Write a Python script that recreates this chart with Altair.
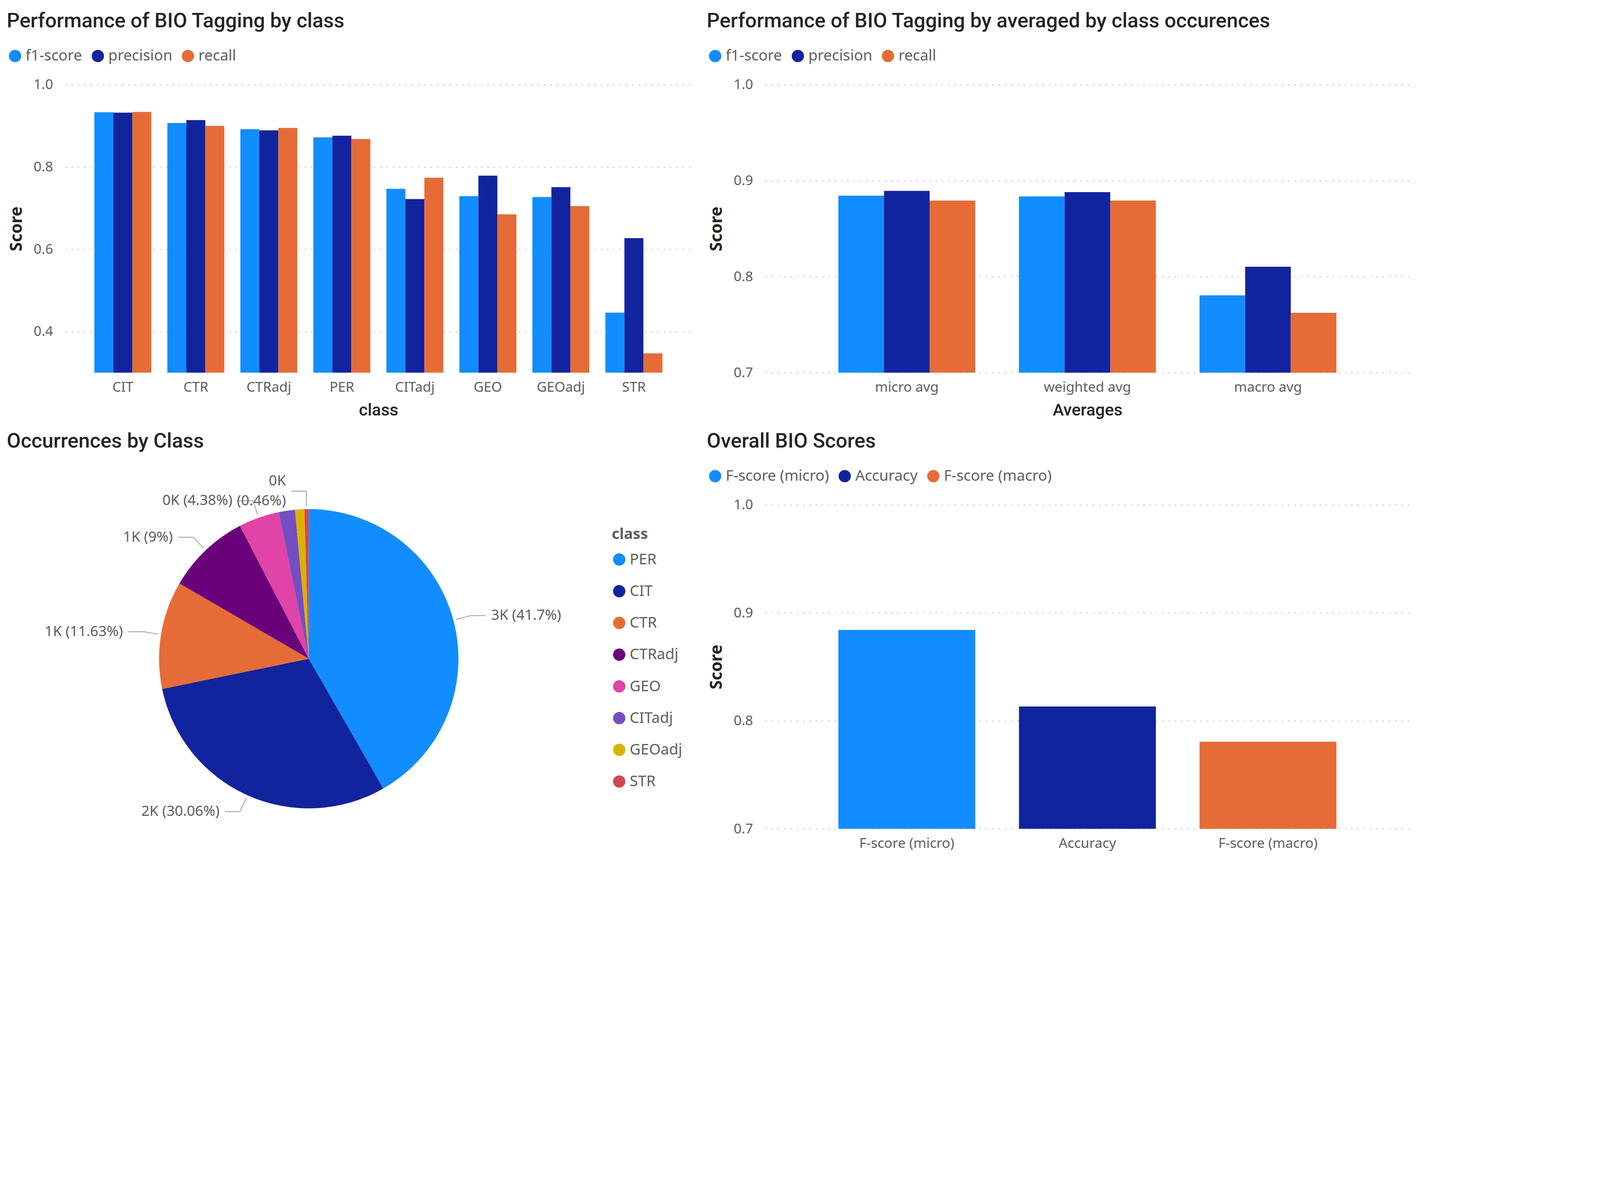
import json
import altair as alt
import pandas as pd

# ---------------- data ----------------
classes = ["CIT", "CTR", "CTRadj", "PER", "CITadj", "GEO", "GEOadj", "STR"]
metrics = ["f1-score", "precision", "recall"]
f1_by_class = [0.933, 0.907, 0.892, 0.872, 0.747, 0.729, 0.727, 0.446]
precision_by_class = [0.932, 0.914, 0.889, 0.876, 0.722, 0.779, 0.751, 0.627]
recall_by_class = [0.934, 0.900, 0.895, 0.868, 0.774, 0.685, 0.705, 0.347]

averages = ["micro avg", "weighted avg", "macro avg"]
f1_avg = [0.8844, 0.8836, 0.7805]
precision_avg = [0.8894, 0.8881, 0.8103]
recall_avg = [0.8793, 0.8793, 0.7623]

pie_classes = ["PER", "CIT", "CTR", "CTRadj", "GEO", "CITadj", "GEOadj", "STR"]
pie_counts = [2961, 2134, 826, 639, 311, 125, 71, 33]
hidden_pie_labels = ["CITadj", "GEOadj"]

overall_names = ["F-score (micro)", "Accuracy", "F-score (macro)"]
overall_values = [0.8842, 0.8133, 0.7806]

class_domain = [0.3, 1.0]
avg_domain = [0.7, 1.0]
class_ticks = [0.4, 0.6, 0.8, 1.0]
avg_ticks = [0.7, 0.8, 0.9, 1.0]

# ---------------- style ----------------
# sizes below are given in screenshot pixels; K converts them to CSS pixels
K = 4096 / 5334


def px(v):
    return v * K


metric_colors = ["#118DFF", "#12239E", "#E66C37"]
class_colors = ["#118DFF", "#12239E", "#E66C37", "#6B007B",
                "#E044A7", "#744EC2", "#D9B300", "#D64550"]
SEGOE = "Noto Sans"
DIN = "Roboto"
DARK = "#252423"
GRAY = "#605E5C"

BAR_W, BAR_H = px(2088), px(960)
AVG_W = px(2148)
OV_H = px(1080)
PIE_W, PIE_H, PIE_R = px(1624), px(1026), px(499)
CX, CY = PIE_W / 2, PIE_H / 2
LINE_H = px(67)
DOT = px(41) ** 2

# ---------------- frames ----------------
rows = []
for i, c in enumerate(classes):
    for m, vals in zip(metrics, [f1_by_class, precision_by_class, recall_by_class]):
        rows.append({"cls": c, "metric": m, "score": vals[i]})
df_class = pd.DataFrame(rows)

rows = []
for i, a in enumerate(averages):
    for m, vals in zip(metrics, [f1_avg, precision_avg, recall_avg]):
        rows.append({"avg": a, "metric": m, "score": vals[i]})
df_avg = pd.DataFrame(rows)

df_pie = pd.DataFrame({"cls": pie_classes, "count": pie_counts,
                       "idx": list(range(len(pie_classes)))})
df_over = pd.DataFrame({"name": overall_names, "score": overall_values})


def title(text, offset):
    return alt.TitleParams(text=text, anchor="start", frame="group", dx=px(-195),
                           offset=px(offset), baseline="alphabetic", font=DIN,
                           fontSize=px(68), fontWeight=500, color=DARK)


def top_legend():
    return alt.Legend(orient="none", legendX=px(-192), legendY=px(-121),
                      direction="horizontal", title=None, symbolType="circle",
                      symbolSize=DOT, symbolStrokeWidth=0, labelFont=SEGOE,
                      labelFontSize=px(50), labelColor=GRAY, labelOffset=px(10),
                      labelLimit=0, columnPadding=px(27), padding=0)


def y_axis(values):
    return alt.Axis(values=values, format=".1f", domain=False, ticks=False,
                    labelPadding=px(41), labelFont=SEGOE, labelFontSize=px(46),
                    labelColor=GRAY, grid=True, gridColor="#C8C6C4",
                    gridDash=[px(4), px(17)], gridWidth=px(4), title="Score",
                    titleFont=SEGOE, titleFontSize=px(55), titleFontWeight="bold",
                    titleColor=DARK, titleX=px(-162), titleBaseline="middle",
                    titleAngle=270)


def x_axis(t):
    kw = dict(domain=False, ticks=False, labelAngle=0, labelPadding=px(26),
              labelFont=SEGOE, labelFontSize=px(46), labelColor=GRAY, labelLimit=0,
              grid=False)
    if t:
        kw.update(title=t, titleFont=DIN, titleFontSize=px(56), titleFontWeight=500,
                  titleColor=DARK, titleY=px(125), titleBaseline="middle")
    else:
        kw.update(title=None)
    return alt.Axis(**kw)


metric_scale = alt.Scale(domain=metrics, range=metric_colors)

# ---- A: by class ----
chart_a = alt.Chart(df_class).mark_bar().encode(
    x=alt.X("cls:N", sort=classes,
            scale=alt.Scale(paddingInner=0.2194, paddingOuter=0.399),
            axis=x_axis("class")),
    xOffset=alt.XOffset("metric:N", sort=metrics,
                        scale=alt.Scale(paddingInner=0, paddingOuter=0)),
    y=alt.Y("score:Q", scale=alt.Scale(domain=class_domain, zero=False, nice=False),
            axis=y_axis(class_ticks)),
    y2=alt.Y2(datum=class_domain[0]),
    color=alt.Color("metric:N", scale=metric_scale, legend=top_legend()),
).properties(width=BAR_W, height=BAR_H,
             title=title("Performance of BIO Tagging by class", 2))

# ---- B: averages ----
chart_b = alt.Chart(df_avg).mark_bar().encode(
    x=alt.X("avg:N", sort=averages,
            scale=alt.Scale(paddingInner=0.242, paddingOuter=0.405),
            axis=x_axis("Averages")),
    xOffset=alt.XOffset("metric:N", sort=metrics,
                        scale=alt.Scale(paddingInner=0, paddingOuter=0)),
    y=alt.Y("score:Q", scale=alt.Scale(domain=avg_domain, zero=False, nice=False),
            axis=y_axis(avg_ticks)),
    y2=alt.Y2(datum=avg_domain[0]),
    color=alt.Color("metric:N", scale=metric_scale, legend=top_legend()),
).properties(width=AVG_W, height=BAR_H,
             title=title("Performance of BIO Tagging by averaged by class occurences", 2))

# ---- C: pie ----
pie_base = alt.Chart(df_pie)
arcs = pie_base.mark_arc(radius=PIE_R).encode(
    theta=alt.Theta("count:Q", stack=True),
    order=alt.Order("idx:Q"),
    color=alt.Color("cls:N", scale=alt.Scale(domain=pie_classes, range=class_colors),
                    legend=alt.Legend(orient="none", legendX=px(1822), legendY=px(74),
                                      direction="vertical", title="class",
                                      titleFont=SEGOE, titleFontSize=px(50),
                                      titleFontWeight="bold", titleColor=GRAY,
                                      titlePadding=px(33), symbolType="circle",
                                      symbolSize=DOT, symbolStrokeWidth=0,
                                      labelFont=SEGOE, labelFontSize=px(50),
                                      labelColor=GRAY, labelOffset=px(10),
                                      labelLimit=0, rowPadding=px(55), padding=0)),
)

hidden = json.dumps(hidden_pie_labels)
geo = (pie_base
       .transform_joinaggregate(total="sum(count)")
       .transform_window(cum="sum(count)", sort=[alt.SortField("idx", order="ascending")],
                         frame=[None, 0])
       .transform_calculate(mid="2*PI*(datum.cum - datum.count/2)/datum.total")
       .transform_calculate(s="sin(datum.mid)")
       .transform_calculate(c="cos(datum.mid)")
       .transform_calculate(side="datum.s >= 0 ? 1 : -1")
       .transform_calculate(twoline="abs(datum.s) < 0.1")
       .transform_calculate(sx=f"{CX} + {PIE_R * 1.02}*datum.s")
       .transform_calculate(sy=f"{CY} - {PIE_R * 1.02}*datum.c")
       .transform_calculate(ex=f"{CX} + {PIE_R * 1.12}*datum.s")
       .transform_calculate(ey=f"{CY} - {PIE_R * 1.12}*datum.c")
       .transform_calculate(hx=f"datum.ex + datum.side*{px(50)}")
       .transform_calculate(tx=f"datum.hx + datum.side*{px(18)}")
       .transform_calculate(ty=f"datum.twoline ? datum.ey - {LINE_H / 2} : datum.ey")
       .transform_calculate(kl="format(datum.count/1000, '.0f') + 'K'")
       .transform_calculate(pl="'(' + format(datum.count/datum.total, '.2~%') + ')'")
       .transform_calculate(label="datum.twoline ? [datum.kl, datum.pl] : datum.kl + ' ' + datum.pl")
       .transform_filter(f"indexof({hidden}, datum.cls) < 0"))

leaders = (geo.transform_fold(["sx", "ex", "hx"], as_=["pt", "px"])
           .transform_calculate(py="datum.pt == 'sx' ? datum.sy : datum.ey")
           .transform_calculate(ord="datum.pt == 'sx' ? 0 : (datum.pt == 'ex' ? 1 : 2)")
           .mark_line(color="#B3B0AD", strokeWidth=px(3.4))
           .encode(x=alt.X("px:Q", scale=None, axis=None),
                   y=alt.Y("py:Q", scale=None, axis=None),
                   detail="cls:N", order="ord:Q"))

txt_kw = dict(baseline="middle", font=SEGOE, fontSize=px(48), color=GRAY, lineHeight=LINE_H)
labels_r = geo.transform_filter("datum.side > 0").mark_text(align="left", **txt_kw).encode(
    x=alt.X("tx:Q", scale=None, axis=None), y=alt.Y("ty:Q", scale=None, axis=None),
    text="label:N")
labels_l = geo.transform_filter("datum.side < 0").mark_text(align="right", **txt_kw).encode(
    x=alt.X("tx:Q", scale=None, axis=None), y=alt.Y("ty:Q", scale=None, axis=None),
    text="label:N")

chart_c = alt.layer(arcs, leaders, labels_r, labels_l).properties(
    width=PIE_W, height=PIE_H, title=title("Occurrences by Class", 20))

# ---- D: overall ----
chart_d = alt.Chart(df_over).mark_bar().encode(
    x=alt.X("name:N", sort=overall_names,
            scale=alt.Scale(paddingInner=0.242, paddingOuter=0.405),
            axis=x_axis(None)),
    y=alt.Y("score:Q", scale=alt.Scale(domain=avg_domain, zero=False, nice=False),
            axis=y_axis(avg_ticks)),
    y2=alt.Y2(datum=avg_domain[0]),
    color=alt.Color("name:N", scale=alt.Scale(domain=overall_names, range=metric_colors),
                    legend=top_legend()),
).properties(width=AVG_W, height=OV_H, title=title("Overall BIO Scores", 2))

chart = alt.concat(chart_a, chart_b, chart_c, chart_d, columns=2,
                   spacing={"row": px(440), "column": px(245)}, bounds="flush").resolve_scale(
    x="independent", y="independent", color="independent", xOffset="independent"
).resolve_legend(color="independent").configure_view(stroke=None).properties(
    padding={"left": px(11.6), "top": px(26), "right": px(20), "bottom": px(20)},
    background="white")

chart.save("out.html", embed_options={"renderer": "svg", "actions": False})
